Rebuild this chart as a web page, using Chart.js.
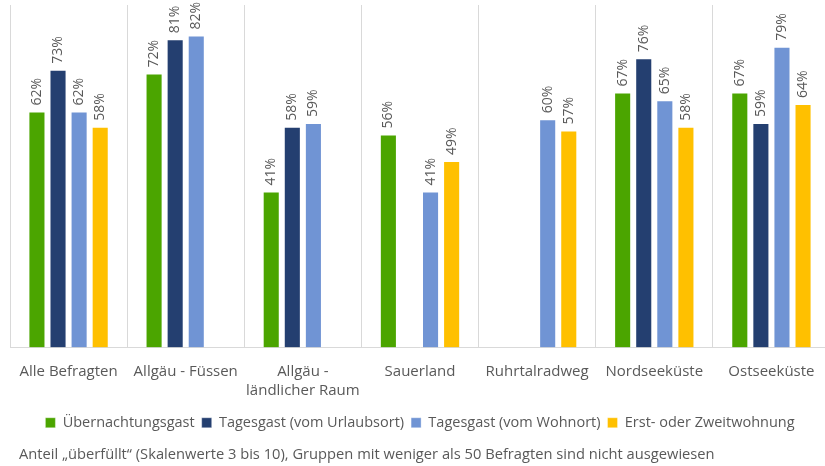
<!DOCTYPE html>
<html lang="de">
<head>
<meta charset="utf-8">
<title>Anteil überfüllt</title>
<script src="https://cdn.jsdelivr.net/npm/chart.js@4/dist/chart.umd.min.js"></script>
<style>
    html, body { margin: 0; padding: 0; background: #fff; overflow: hidden; }
    #contenedor { position: relative; width: 848px; height: 466px; }
</style>
</head>
<body>
<div id="contenedor"><canvas id="grafico"></canvas></div>
<script>
// Kategorien und Werte (in Prozent), null = weniger als 50 Befragte
const kategorien = ['Alle Befragten', 'Allgäu - Füssen', ['Allgäu -', 'ländlicher Raum'], 'Sauerland', 'Ruhrtalradweg', 'Nordseeküste', 'Ostseeküste'];
const serien = ['Übernachtungsgast', 'Tagesgast (vom Urlaubsort)', 'Tagesgast (vom Wohnort)', 'Erst- oder Zweitwohnung'];
const uebernachtung = [62, 72, 41, 56, null, 67, 67];
const tagesUrlaubsort = [73, 81, 58, null, null, 76, 59];
const tagesWohnort = [62, 82, 59, 41, 60, 65, 79];
const zweitwohnung = [58, null, null, 49, 57, 58, 64];
const fussnote = 'Anteil „überfüllt“ (Skalenwerte 3 bis 10), Gruppen mit weniger als 50 Befragten sind nicht ausgewiesen';

const farben = ['#4ba500', '#243f70', '#7094d4', '#ffc000'];
const grau = '#595959';
const schrift = '"Open Sans", "Liberation Sans", sans-serif';

const werte = [uebernachtung, tagesUrlaubsort, tagesWohnort, zweitwohnung];

// Prozentwerte senkrecht über die Balken schreiben
const etiketten = {
    id: 'etiketten',
    afterDatasetsDraw(chart) {
        const ctx = chart.ctx;
        ctx.save();
        ctx.fillStyle = grau;
        ctx.font = '14px ' + schrift;
        ctx.textAlign = 'left';
        ctx.textBaseline = 'middle';
        chart.data.datasets.forEach((ds, i) => {
            chart.getDatasetMeta(i).data.forEach((bar, j) => {
                const v = ds.data[j];
                if (v === null) return;
                ctx.save();
                ctx.translate(bar.x, bar.y - 6);
                ctx.rotate(-Math.PI / 2);
                ctx.fillText(v + '%', 0, 0);
                ctx.restore();
            });
        });
        ctx.restore();
    }
};

// Fußnote links unten
const notiz = {
    id: 'notiz',
    afterDraw(chart) {
        const ctx = chart.ctx;
        ctx.save();
        ctx.fillStyle = grau;
        ctx.font = '14.7px ' + schrift;
        ctx.textAlign = 'left';
        ctx.textBaseline = 'middle';
        ctx.fillText(fussnote, 19, 455);
        ctx.restore();
    }
};

const datos = {
    labels: kategorien,
    datasets: serien.map((name, i) => ({
        label: name,
        data: werte[i],
        backgroundColor: farben[i],
        borderColor: 'rgba(255,255,255,0.35)',
        borderWidth: 1,
        categoryPercentage: 0.72,
        barPercentage: 0.81
    }))
};

const ctx = document.getElementById('grafico').getContext('2d');

new Chart(ctx, {
    type: 'bar',
    data: datos,
    options: {
        responsive: true,
        maintainAspectRatio: false,
        animation: false,
        layout: {
            padding: { top: 5, left: 10, right: 18, bottom: 26 }
        },
        scales: {
            x: {
                grid: {
                    color: '#d9d9d9',
                    drawTicks: false,
                    offset: true
                },
                border: { color: '#d9d9d9' },
                ticks: {
                    color: grau,
                    padding: 14,
                    maxRotation: 0,
                    minRotation: 0,
                    autoSkip: false,
                    font: { family: schrift, size: 15, lineHeight: 1.3 }
                },
                afterFit: (scale) => { scale.height -= 6; }
            },
            y: {
                display: false,
                min: 0,
                max: 90
            }
        },
        plugins: {
            legend: {
                position: 'bottom',
                labels: {
                    color: grau,
                    boxWidth: 10,
                    boxHeight: 10,
                    padding: 7,
                    font: { family: schrift, size: 14.5 }
                }
            },
            tooltip: { enabled: false }
        }
    },
    plugins: [etiketten, notiz]
});
</script>
</body>
</html>
